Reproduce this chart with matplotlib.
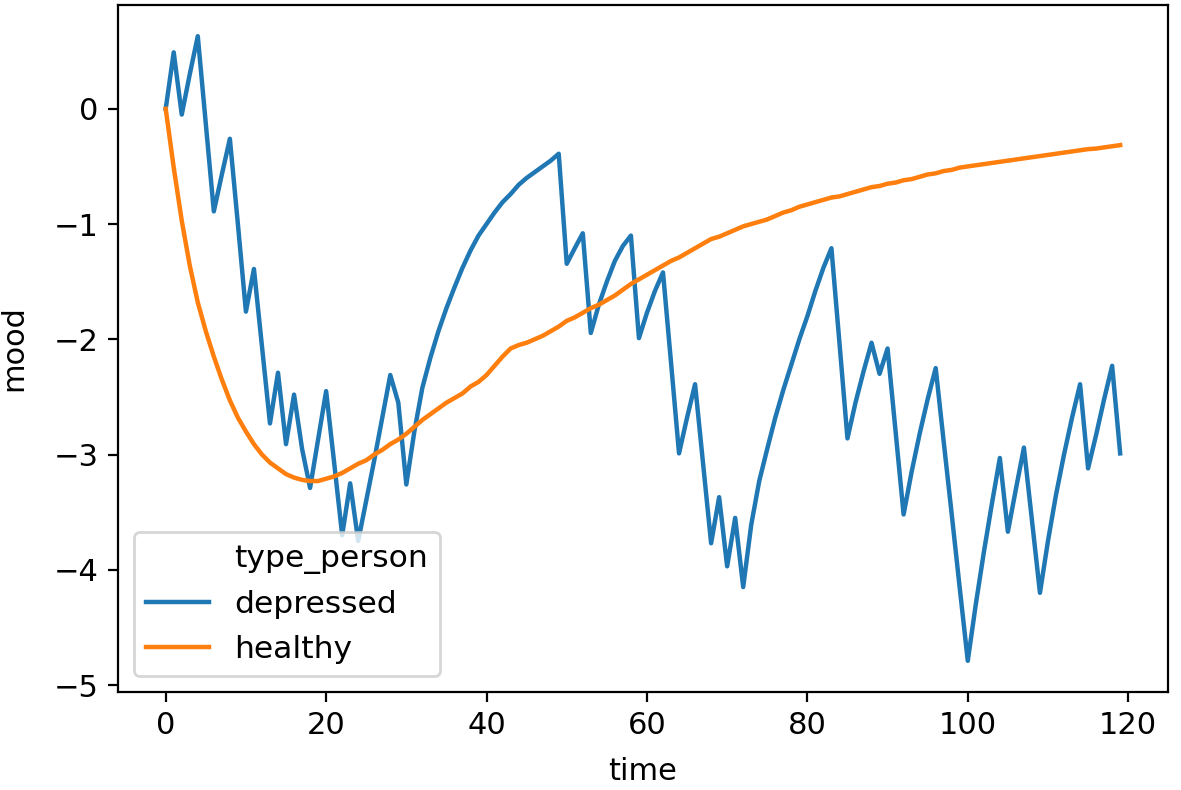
import matplotlib
matplotlib.use("Agg")
import matplotlib.pyplot as plt
from matplotlib.lines import Line2D
import numpy as np

time = list(range(120))

depressed = [
    0.00, 0.49, -0.05, 0.30, 0.63, -0.13, -0.89, -0.57, -0.26, -1.00,
    -1.76, -1.39, -2.06, -2.73, -2.29, -2.91, -2.48, -2.95, -3.29, -2.87,
    -2.45, -3.07, -3.70, -3.25, -3.75, -3.40, -3.05, -2.68, -2.31, -2.55,
    -3.26, -2.80, -2.42, -2.16, -1.93, -1.73, -1.55, -1.38, -1.23, -1.10,
    -1.00, -0.90, -0.81, -0.74, -0.66, -0.60, -0.55, -0.50, -0.45, -0.39,
    -1.345, -1.21, -1.08, -1.945, -1.70, -1.50, -1.32, -1.19, -1.10, -1.99,
    -1.77, -1.58, -1.42, -2.20, -2.99, -2.68, -2.39, -3.08, -3.77, -3.37,
    -3.97, -3.55, -4.15, -3.61, -3.23, -2.95, -2.68, -2.44, -2.22, -2.00,
    -1.80, -1.58, -1.38, -1.21, -2.03, -2.86, -2.55, -2.28, -2.03, -2.30,
    -2.08, -2.80, -3.52, -3.15, -2.82, -2.52, -2.25, -2.89, -3.52, -4.16,
    -4.79, -4.30, -3.85, -3.43, -3.03, -3.67, -3.30, -2.94, -3.57, -4.20,
    -3.75, -3.35, -3.00, -2.68, -2.39, -3.12, -2.83, -2.52, -2.23, -2.99,
]

healthy = [
    0.00, -0.51, -0.97, -1.36, -1.68, -1.93, -2.15, -2.35, -2.53, -2.68,
    -2.80, -2.91, -3.00, -3.07, -3.12, -3.17, -3.20, -3.22, -3.23, -3.23,
    -3.21, -3.19, -3.16, -3.12, -3.08, -3.05, -3.00, -2.96, -2.91, -2.87,
    -2.82, -2.76, -2.70, -2.65, -2.60, -2.55, -2.51, -2.47, -2.41, -2.37,
    -2.31, -2.23, -2.15, -2.08, -2.05, -2.03, -2.00, -1.97, -1.93, -1.89,
    -1.84, -1.81, -1.77, -1.73, -1.70, -1.66, -1.62, -1.57, -1.52, -1.48,
    -1.44, -1.40, -1.36, -1.32, -1.29, -1.25, -1.21, -1.17, -1.13, -1.11,
    -1.08, -1.05, -1.02, -1.00, -0.98, -0.96, -0.93, -0.90, -0.88, -0.85,
    -0.83, -0.81, -0.79, -0.77, -0.76, -0.74, -0.72, -0.70, -0.68, -0.67,
    -0.65, -0.64, -0.62, -0.61, -0.59, -0.57, -0.56, -0.54, -0.53, -0.51,
    -0.50, -0.49, -0.48, -0.47, -0.46, -0.45, -0.44, -0.43, -0.42, -0.41,
    -0.40, -0.39, -0.38, -0.37, -0.36, -0.35, -0.345, -0.335, -0.325, -0.315,
]

series_names = ["depressed", "healthy"]
legend_title = "type_person"

plt.rcParams["font.size"] = 11

fig = plt.figure(figsize=(5.905, 3.95), dpi=200)
ax = fig.add_axes([0.0999, 0.124, 0.889, 0.8697])

l1, = ax.plot(time, depressed, color="#1f77b4", lw=1.6, label=series_names[0])
l2, = ax.plot(time, healthy, color="#ff7f0e", lw=1.6, label=series_names[1])

title_handle = Line2D([], [], linestyle="", marker="", label=legend_title)
ax.legend(handles=[title_handle, l1, l2], loc="lower left", fontsize=11.3)

ax.tick_params(labelsize=11)
ax.set_xlabel("time", fontsize=11, labelpad=6)
ax.set_ylabel("mood", fontsize=11, labelpad=9)

fig.savefig("out.png", dpi=200)
